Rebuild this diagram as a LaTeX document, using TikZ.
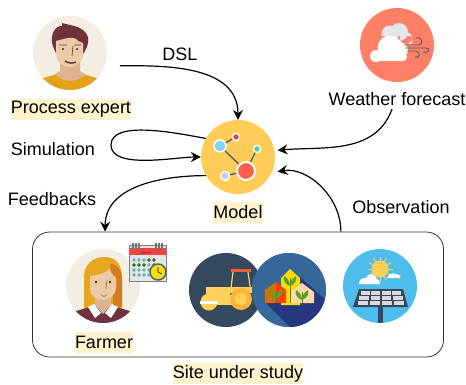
\documentclass[tikz,border=0pt]{standalone}
\usepackage{fontspec}
\setmainfont{Liberation Sans}
\usepackage{xcolor}
\usetikzlibrary{arrows.meta, positioning}
\definecolor{tagbg}{HTML}{FFF2CC}
\definecolor{skinbg}{HTML}{F3EDE4}
\definecolor{modelbg}{HTML}{FFCD57}
\definecolor{weatherbg}{HTML}{FF8066}
\definecolor{rollerbg}{HTML}{34495E}
\definecolor{housebg}{HTML}{36699A}
\definecolor{housedark}{HTML}{283880}
\definecolor{solarbg}{HTML}{4FBDEB}
\definecolor{skin}{HTML}{EBCBA5}
\definecolor{skindark}{HTML}{DDB48E}
\definecolor{maroon}{HTML}{6F333F}
\definecolor{mustard}{HTML}{E5A11A}
\definecolor{blond}{HTML}{E8A520}
\definecolor{blonddark}{HTML}{D07D20}
\definecolor{sunny}{HTML}{FFD05A}
\definecolor{wheel}{HTML}{F9B43C}
\definecolor{leaf}{HTML}{5FA02A}
\definecolor{slate}{HTML}{4A5A68}
\definecolor{dotblue}{HTML}{80D4FF}
\definecolor{dotred}{HTML}{E8473F}
\definecolor{dotteal}{HTML}{3FD4B0}
\definecolor{dotgray}{HTML}{C8CEDC}
\definecolor{dotbig}{HTML}{FF6050}
\definecolor{cloudgray}{HTML}{E3E7EC}
\newcommand{\lbl}{\fontsize{18}{20}\selectfont}

\begin{document}
\begin{tikzpicture}[x=1pt, y=-1pt, on grid, font=\lbl,
    icon/.style={circle, inner sep=0pt, minimum size=74pt},
    tag/.style={fill=tagbg, inner xsep=0pt, inner ysep=0pt, minimum height=21pt},
    flow/.style={-{Stealth[length=10pt, width=10pt, inset=3.5pt]}, line width=1.2pt, black},
    dot/.style={draw=white, line width=1.4pt}]

    \useasboundingbox (0,0) rectangle (466,384);

    \node[icon, fill=modelbg] (model) at (238,157) {};
    \node[icon, fill=skinbg, above left=104pt and 168pt of model] (expert) {};
    \node[icon, fill=weatherbg, above right=112pt and 159pt of model] (weather) {};
    \node[draw=black!80, line width=0.8pt, rounded corners=17pt, minimum width=411pt, minimum height=125pt, below=137.5pt of model] (site) {};
    \node[icon, fill=skinbg, below left=129pt and 135pt of model] (farmer) {};
    \node[icon, fill=rollerbg, below left=133pt and 12pt of model] (roller) {};
    \node[icon, fill=housebg, below right=133pt and 51pt of model] (house) {};
    \node[icon, fill=solarbg, below right=129pt and 142pt of model] (solar) {};

    \node[tag, below=56pt of expert, xshift=1pt] (expertlbl) {Process expert};
    \node[below=54pt of weather] (weatherlbl) {Weather forecast};
    \node[tag, below=55pt of model] (modellbl) {Model};
    \node[tag, below=56pt of farmer, xshift=1pt] (farmerlbl) {Farmer};
    \node[tag, below=79pt of site] (sitelbl) {Site under study};
    \node[above left=103pt and 58pt of model] (dsl) {DSL};
    \node[left=185pt of model, yshift=8pt] (simlbl) {Simulation};
    \node[below left=42pt and 186pt of model] (feedlbl) {Feedbacks};
    \node[below right=50pt and 163pt of model] (obslbl) {Observation};
    \coordinate[left=127pt of model, yshift=12pt] (simturn);

    % model
    \begin{scope}[shift={(model.center)}]
        \draw[slate, line width=1.3pt] (-18,-11) -- (8,14) -- (19,-8) (-18,-11) -- (-2,-20) (8,14) -- (-13,19);
        \fill[dot, fill=dotblue] (-18,-11) circle (6);
        \fill[dot, fill=dotred] (-2,-20) circle (3.6);
        \fill[dot, fill=dotteal] (19,-8) circle (3.6);
        \fill[dot, fill=dotgray] (-13,19) circle (4.5);
        \fill[dot, fill=dotbig, line width=2pt] (8,14) circle (9);
    \end{scope}

    % process expert
    \begin{scope}[shift={(expert.center)}]
        \clip (0,0) circle (37);
        \fill[mustard] (-30,26) -- (-13,21) -- (13,21) -- (30,26) -- (30,40) -- (-30,40) -- cycle;
        \fill[skindark] (-10,8) -- (10,8) -- (10,18) -- (15,21) .. controls (8,30) and (-8,30) .. (-15,21) -- (-10,18) -- cycle;
        \fill[maroon] (-16,-4) .. controls (-22,-16) and (-15,-28) .. (-8,-27) -- (-8,-30) .. controls (2,-27) and (14,-27) .. (18,-16) .. controls (19,-8) and (16,-4) .. (14,0) -- (-14,0) -- cycle;
        \fill[skin] (-14,-12) .. controls (-6,-14) and (4,-18) .. (8,-12) -- (13,-10) -- (13,3) .. controls (11,11) and (5,14) .. (0,14) .. controls (-6,14) and (-12,11) .. (-14,3) -- cycle;
        \fill[black!80] (-7,-4) circle (1.2) (7,-4) circle (1.2);
        \draw[maroon, line width=0.6pt] (3,-7) -- (2,3) (-11,-8) -- (-3,-8) (4,-8) -- (11,-8);
        \draw[maroon, line width=1.5pt] (-5,8) .. controls (-2,10) and (2,11) .. (6,9);
    \end{scope}

    % weather
    \begin{scope}[shift={(weather.center)}]
        \fill[cloudgray] (-7,-11) circle (8.5) (2,-13) circle (9) (9,-7) circle (6) (-15,-9) rectangle (15,-1);
        \fill[white] (-21,11) circle (6) (-7,3) circle (12.5) (4,5) circle (7);
        \fill[white, rounded corners=4pt] (-27,8) rectangle (10,16);
        \draw[slate, line width=0.9pt] (7,0) -- (22,0) .. controls (27,-1) and (25,-9) .. (19,-7) (8,3) -- (29,3) .. controls (34,3) and (32,9) .. (26,7) (10,6) -- (19,6) .. controls (25,8) and (22,14) .. (18,12);
    \end{scope}

    % site under study
    \begin{scope}[shift={(farmer.center)}]
        \clip (0,0) circle (37);
        \fill[blond] (-19,23) -- (-19,-8) .. controls (-19,-24) and (-8,-29) .. (2,-29) .. controls (14,-29) and (19,-20) .. (19,-8) -- (19,23) -- cycle;
        \fill[blonddark] (7,-22) .. controls (16,-22) and (19,-14) .. (19,-6) -- (19,21) -- (10,21) -- (10,-8) -- cycle;
        \fill[maroon] (-30,26) -- (-10,20) -- (10,20) -- (30,26) -- (30,40) -- (-30,40) -- cycle;
        \fill[skindark] (-8,8) -- (8,8) -- (8,19) -- (0,28) -- (-8,19) -- cycle;
        \fill[white] (-15,21) -- (-9,18) -- (-2,27) -- (-8,32) -- cycle (15,21) -- (9,18) -- (2,27) -- (8,32) -- cycle;
        \fill[skin] (-13,-10) .. controls (-4,-11) and (3,-13) .. (6,-17) .. controls (8,-13) and (11,-10) .. (13,-8) -- (13,3) .. controls (11,11) and (5,14) .. (0,14) .. controls (-6,14) and (-12,11) .. (-13,3) -- cycle;
        \fill[black!80] (-7,-4) circle (1.3) (7,-4) circle (1.3);
        \draw[blonddark!70!black, line width=0.5pt] (4,-6) -- (3,3);
        \fill[skindark!70!maroon] (-3,8) .. controls (0,10) and (2,10) .. (5,8) .. controls (3,12) and (-1,12) .. (-3,8) -- cycle;
    \end{scope}

    % calendar
    \begin{scope}[shift={(farmer.center)}]
        \fill[black!10, draw=black!50, line width=0.5pt] (26,-41) rectangle (63,-5);
        \fill[red!75!white] (26,-38) rectangle (63,-31);
        \draw[black!70, line width=0.7pt] (38,-34) -- (48,-34);
        \foreach \cx in {29,32,35,52,55,58}
            \fill[black!55] (\cx,-43) rectangle +(1.8,7);
        \foreach \cy in {-26,-21,-16,-11}
            \foreach \cx in {31,36,41,46,51}
                \fill[rollerbg!60!cyan!70!white] (\cx,\cy) circle (1.9);
        \foreach \cx in {31,36,41,51}
            \fill[leaf!70!black] (\cx,-21) circle (1.9);
        \fill[leaf!70!black] (46,-26) circle (1.9) (51,-26) circle (1.9);
        \fill[yellow!80!orange, draw=cyan!40!black, line width=1.5pt] (55,-14) circle (8);
        \draw[black, line width=0.6pt] (55,-19) -- (55,-14) -- (59,-12);
    \end{scope}

    \begin{scope}[shift={(roller.center)}]
        \draw[sunny, line width=1.2pt] (7,-18) -- (5,-2) (22,-18) -- (25,3);
        \fill[red!60!orange!80!white] (5,-21) rectangle (25,-18);
        \fill[sunny] (-20,-3) rectangle (4,5);
        \fill[sunny] (-12,5) rectangle (12,15);
        \fill[sunny] (-18,-3) rectangle (26,3);
        \fill[sunny] (-17,12) circle (8.5);
        \fill[white] (-26,11) rectangle (-8,14);
        \fill[wheel] (15,9) circle (11);
        \fill[sunny] (15,9) circle (6);
        \fill[wheel] (13,7) circle (1.5);
    \end{scope}

    \begin{scope}[shift={(house.center)}]
        \fill[housebg] (0,0) circle (37);
        \clip (0,0) circle (37);
        \fill[housedark] (-23,13) -- (11,-13) -- (40,13) -- (40,40) -- (4,40) -- cycle;
        \fill[yellow!80!orange] (-8,15) -- (-8,-12) -- (1,-21) -- (11,-12) -- (11,15) -- cycle;
        \fill[orange!85!black] (-24,13) -- (-24,0) -- (-13,-8) -- (-13,13) -- cycle;
        \fill[red!50!orange] (-13,13) -- (-13,-8) -- (-3,0) -- (-3,13) -- cycle;
        \fill[tagbg!80!orange] (2,13) -- (2,2) -- (13,-7) -- (25,2) -- (25,13) -- cycle;
        \foreach \px/\py in {-13/3, 1/-10, 13/4} {
            \draw[leaf!80!black, line width=0.9pt] (\px,\py-2) -- (\px,13);
            \fill[leaf] (\px,\py+6) .. controls (\px-6,\py+4) and (\px-7,\py-1) .. (\px-6,\py-4) .. controls (\px-2,\py-2) and (\px,\py+2) .. (\px,\py+6)
                .. controls (\px,\py+2) and (\px+2,\py-2) .. (\px+6,\py-4) .. controls (\px+7,\py-1) and (\px+6,\py+4) .. (\px,\py+6) -- cycle;
        }
    \end{scope}

    \begin{scope}[shift={(solar.center)}]
        \foreach \ra in {0,30,...,330}
            \draw[sunny, line width=0.9pt] (0,-17) -- ++(\ra:12.5);
        \fill[sunny] (0,-17) circle (8.5);
        \fill[white] (-21,-2) -- (-21,-3) .. controls (-21,-8) and (-15,-8) .. (-14,-8) .. controls (-12,-14) and (-5,-12) .. (-4,-8) .. controls (-1,-7) and (0,-4) .. (0,-2) -- cycle;
        \fill[white] (7,-8) .. controls (8,-11) and (12,-14) .. (16,-12) .. controls (21,-11) and (21,-9) .. (20,-8) -- cycle;
        \fill[rollerbg] (-2,18) rectangle (3,37);
        \fill[rollerbg] (-21,3) -- (23,3) -- (28,21) -- (-27,21) -- cycle;
        \foreach \rw/\xa/\xb in {4.5/-20/22, 9.8/-21.5/23.5, 15/-23/25} {
            \foreach \cl in {0,1,2,3}
                \fill[black!15] ({\xa+\cl*(\xb-\xa)/4+0.8},\rw) rectangle ({\xa+(\cl+1)*(\xb-\xa)/4-0.8},\rw+4);
        }
    \end{scope}

    \draw[flow, shorten <=15pt] (expert.-20) to[out=0, in=90] (model.90);
    \draw[flow, shorten >=3pt] ([xshift=-5pt]weatherlbl.south) to[out=-110, in=5] (model.10);
    \draw[flow] (model.150) to[out=170, in=90, looseness=0.7] (simturn) to[out=-90, in=180, looseness=0.7] (model.180);
    \draw[flow] (model.-150) to[out=180, in=90] ([xshift=73pt]site.north west);
    \draw[flow, shorten >=6pt] ([xshift=-103pt]site.north east) to[out=90, in=10] (model.-25);
\end{tikzpicture}
\end{document}
